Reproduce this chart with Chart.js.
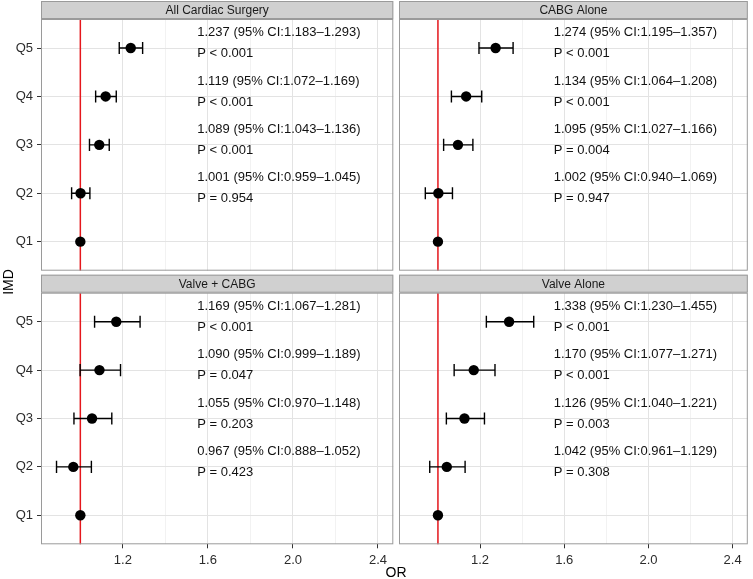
<!DOCTYPE html>
<html lang="en">
<head>
<meta charset="UTF-8">
<title>IMD - odds ratios by surgery type</title>
<script src="https://cdn.jsdelivr.net/npm/chart.js"></script>
<style>
  html, body { margin: 0; padding: 0; background: #fff; }
  #wrap { position: relative; width: 753px; height: 579px; overflow: hidden; }
  #wrap canvas { position: absolute; left: 0; top: 0; }
  .axis-title {
    position: absolute; width: 40px; height: 16px; line-height: 16px;
    text-align: center; font-family: "Liberation Sans", Arial, sans-serif;
    font-size: 14px; color: #000;
  }
  #ylab { left: -12px; top: 274px; transform: rotate(-90deg); }
  #xlab { left: 376px; top: 563.5px; }
</style>
</head>
<body>
<div id="wrap">
  <canvas id="p1" width="753" height="579"></canvas>
  <canvas id="p2" width="753" height="579"></canvas>
  <canvas id="p3" width="753" height="579"></canvas>
  <canvas id="p4" width="753" height="579"></canvas>
  <div class="axis-title" id="ylab">IMD</div>
  <div class="axis-title" id="xlab">OR</div>
</div>

<script>
// categories and tick labels
const categories = ['Q1', 'Q2', 'Q3', 'Q4', 'Q5'];
const xTicks = [1.0, 1.2, 1.4, 1.6, 1.8, 2.0, 2.2, 2.4];
const panelTitles = ['All Cardiac Surgery', 'CABG Alone', 'Valve + CABG', 'Valve Alone'];

// All Cardiac Surgery (Q1 is the reference)
const allOr = [1.000, 1.001, 1.089, 1.119, 1.237];
const allLo = [null, 0.959, 1.043, 1.072, 1.183];
const allHi = [null, 1.045, 1.136, 1.169, 1.293];
const allP  = ['', 'P = 0.954', 'P < 0.001', 'P < 0.001', 'P < 0.001'];

// CABG Alone
const cabgOr = [1.000, 1.002, 1.095, 1.134, 1.274];
const cabgLo = [null, 0.940, 1.027, 1.064, 1.195];
const cabgHi = [null, 1.069, 1.166, 1.208, 1.357];
const cabgP  = ['', 'P = 0.947', 'P = 0.004', 'P < 0.001', 'P < 0.001'];

// Valve + CABG
const vcOr = [1.000, 0.967, 1.055, 1.090, 1.169];
const vcLo = [null, 0.888, 0.970, 0.999, 1.067];
const vcHi = [null, 1.052, 1.148, 1.189, 1.281];
const vcP  = ['', 'P = 0.423', 'P = 0.203', 'P = 0.047', 'P < 0.001'];

// Valve Alone
const valveOr = [1.000, 1.042, 1.126, 1.170, 1.338];
const valveLo = [null, 0.961, 1.040, 1.077, 1.230];
const valveHi = [null, 1.129, 1.221, 1.271, 1.455];
const valveP  = ['', 'P = 0.308', 'P = 0.003', 'P < 0.001', 'P < 0.001'];

const FONT = '"Liberation Sans", Arial, Helvetica, sans-serif';
Chart.defaults.font.family = FONT;

function isMajor(v) {
    return Math.round(v * 10) % 4 === 0;
}

// strip, reference line, error bars and labels for one facet
const facetPlugin = {
    id: 'facet',
    beforeDatasetsDraw(chart, args, opts) {
        const ctx = chart.ctx;
        const xs = chart.scales.x, ys = chart.scales.y;
        const area = chart.chartArea;
        ctx.save();
        // reference line at OR = 1
        const rx = xs.getPixelForValue(1);
        ctx.strokeStyle = '#e5171c';
        ctx.lineWidth = 1.5;
        ctx.beginPath();
        ctx.moveTo(rx, area.top);
        ctx.lineTo(rx, area.bottom);
        ctx.stroke();
        // error bars
        ctx.strokeStyle = '#000';
        ctx.lineWidth = 1.4;
        opts.lo.forEach((lo, i) => {
            if (lo === null) return;
            const y = ys.getPixelForValue(i + 1);
            const cap = Math.abs(ys.getPixelForValue(1.125) - ys.getPixelForValue(1));
            const x1 = xs.getPixelForValue(lo), x2 = xs.getPixelForValue(opts.hi[i]);
            ctx.beginPath();
            ctx.moveTo(x1, y); ctx.lineTo(x2, y);
            ctx.moveTo(x1, y - cap); ctx.lineTo(x1, y + cap);
            ctx.moveTo(x2, y - cap); ctx.lineTo(x2, y + cap);
            ctx.stroke();
        });
        ctx.restore();
    },
    afterDatasetsDraw(chart, args, opts) {
        const ctx = chart.ctx;
        const xs = chart.scales.x, ys = chart.scales.y;
        ctx.save();
        ctx.fillStyle = '#111';
        ctx.font = '13px ' + FONT;
        ctx.textAlign = 'left';
        ctx.textBaseline = 'middle';
        const tx = xs.getPixelForValue(opts.labelX);
        opts.lo.forEach((lo, i) => {
            if (lo === null) return;
            const y = ys.getPixelForValue(i + 1);
            const line1 = opts.or[i].toFixed(3) + ' (95% CI:' + lo.toFixed(3) + '\u2013' + opts.hi[i].toFixed(3) + ')';
            ctx.fillText(line1, tx, y - 15.5);
            ctx.fillText(opts.p[i], tx, y + 5.5);
        });
        ctx.restore();
    },
    afterDraw(chart, args, opts) {
        const ctx = chart.ctx;
        const a = chart.chartArea;
        ctx.save();
        // panel border
        ctx.strokeStyle = '#9a9a9a';
        ctx.lineWidth = 1;
        ctx.strokeRect(a.left + 0.5, a.top + 0.5, a.right - a.left - 1, a.bottom - a.top - 1);
        // strip
        const sh = 18;
        ctx.fillStyle = '#d0d0d0';
        ctx.fillRect(a.left, a.top - sh, a.right - a.left, sh);
        ctx.strokeRect(a.left + 0.5, a.top - sh + 0.5, a.right - a.left - 1, sh - 1);
        ctx.fillStyle = '#1a1a1a';
        ctx.font = '12px ' + FONT;
        ctx.textAlign = 'center';
        ctx.textBaseline = 'middle';
        ctx.fillText(opts.title, (a.left + a.right) / 2, a.top - sh / 2 + 0.5);
        ctx.restore();
    }
};

// box = plot area edges in page pixels
function makePanel(id, title, or, lo, hi, p, box, showX, showY) {
    const yw = showY ? box.left : 0;
    const xh = showX ? 24 : 0;
    const pad = {
        left: box.left - yw,
        top: box.top,
        right: 753 - box.right,
        bottom: 579 - box.bottom - xh
    };
    return new Chart(id, {
        type: 'scatter',
        data: {
            datasets: [{
                data: or.map((v, i) => ({ x: v, y: i + 1 })),
                backgroundColor: '#000',
                borderWidth: 0,
                pointRadius: 5.2,
                pointHoverRadius: 5.2
            }]
        },
        options: {
            responsive: false,
            animation: false,
            events: [],
            layout: { padding: pad },
            plugins: {
                legend: { display: false },
                tooltip: { enabled: false },
                facet: { title: title, or: or, lo: lo, hi: hi, p: p, labelX: 1.55 }
            },
            scales: {
                x: {
                    type: 'linear',
                    min: 0.815,
                    max: 2.472,
                    afterBuildTicks: s => { s.ticks = xTicks.map(v => ({ value: v })); },
                    afterFit: s => { s.height = xh; },
                    border: { display: false },
                    grid: {
                        color: c => isMajor(c.tick.value) ? '#e3e3e3' : '#f2f2f2',
                        drawTicks: showX,
                        tickLength: 4,
                        tickColor: c => isMajor(c.tick.value) ? '#333' : 'rgba(0,0,0,0)'
                    },
                    ticks: {
                        display: showX,
                        autoSkip: false,
                        maxRotation: 0,
                        padding: 4,
                        color: '#2b2b2b',
                        font: { size: 13 },
                        callback: v => isMajor(v) ? v.toFixed(1) : ''
                    }
                },
                y: {
                    type: 'linear',
                    min: 0.4,
                    max: 5.6,
                    afterBuildTicks: s => { s.ticks = categories.map((c, i) => ({ value: i + 1 })); },
                    afterFit: s => { s.width = yw; },
                    border: { display: false },
                    grid: { color: '#e3e3e3', drawTicks: showY, tickLength: 4, tickColor: '#333' },
                    ticks: {
                        display: showY,
                        padding: 4,
                        color: '#2b2b2b',
                        font: { size: 13 },
                        callback: v => categories[Math.round(v) - 1]
                    }
                }
            }
        },
        plugins: [facetPlugin]
    });
}

makePanel('p1', panelTitles[0], allOr, allLo, allHi, allP,
    { left: 41, top: 19, right: 393.3, bottom: 270.7 }, false, true);
makePanel('p2', panelTitles[1], cabgOr, cabgLo, cabgHi, cabgP,
    { left: 399, top: 19, right: 750.7, bottom: 270.7 }, false, false);
makePanel('p3', panelTitles[2], vcOr, vcLo, vcHi, vcP,
    { left: 41, top: 292.7, right: 393.3, bottom: 544.3 }, true, true);
makePanel('p4', panelTitles[3], valveOr, valveLo, valveHi, valveP,
    { left: 399, top: 292.7, right: 750.7, bottom: 544.3 }, true, false);
</script>
</body>
</html>
